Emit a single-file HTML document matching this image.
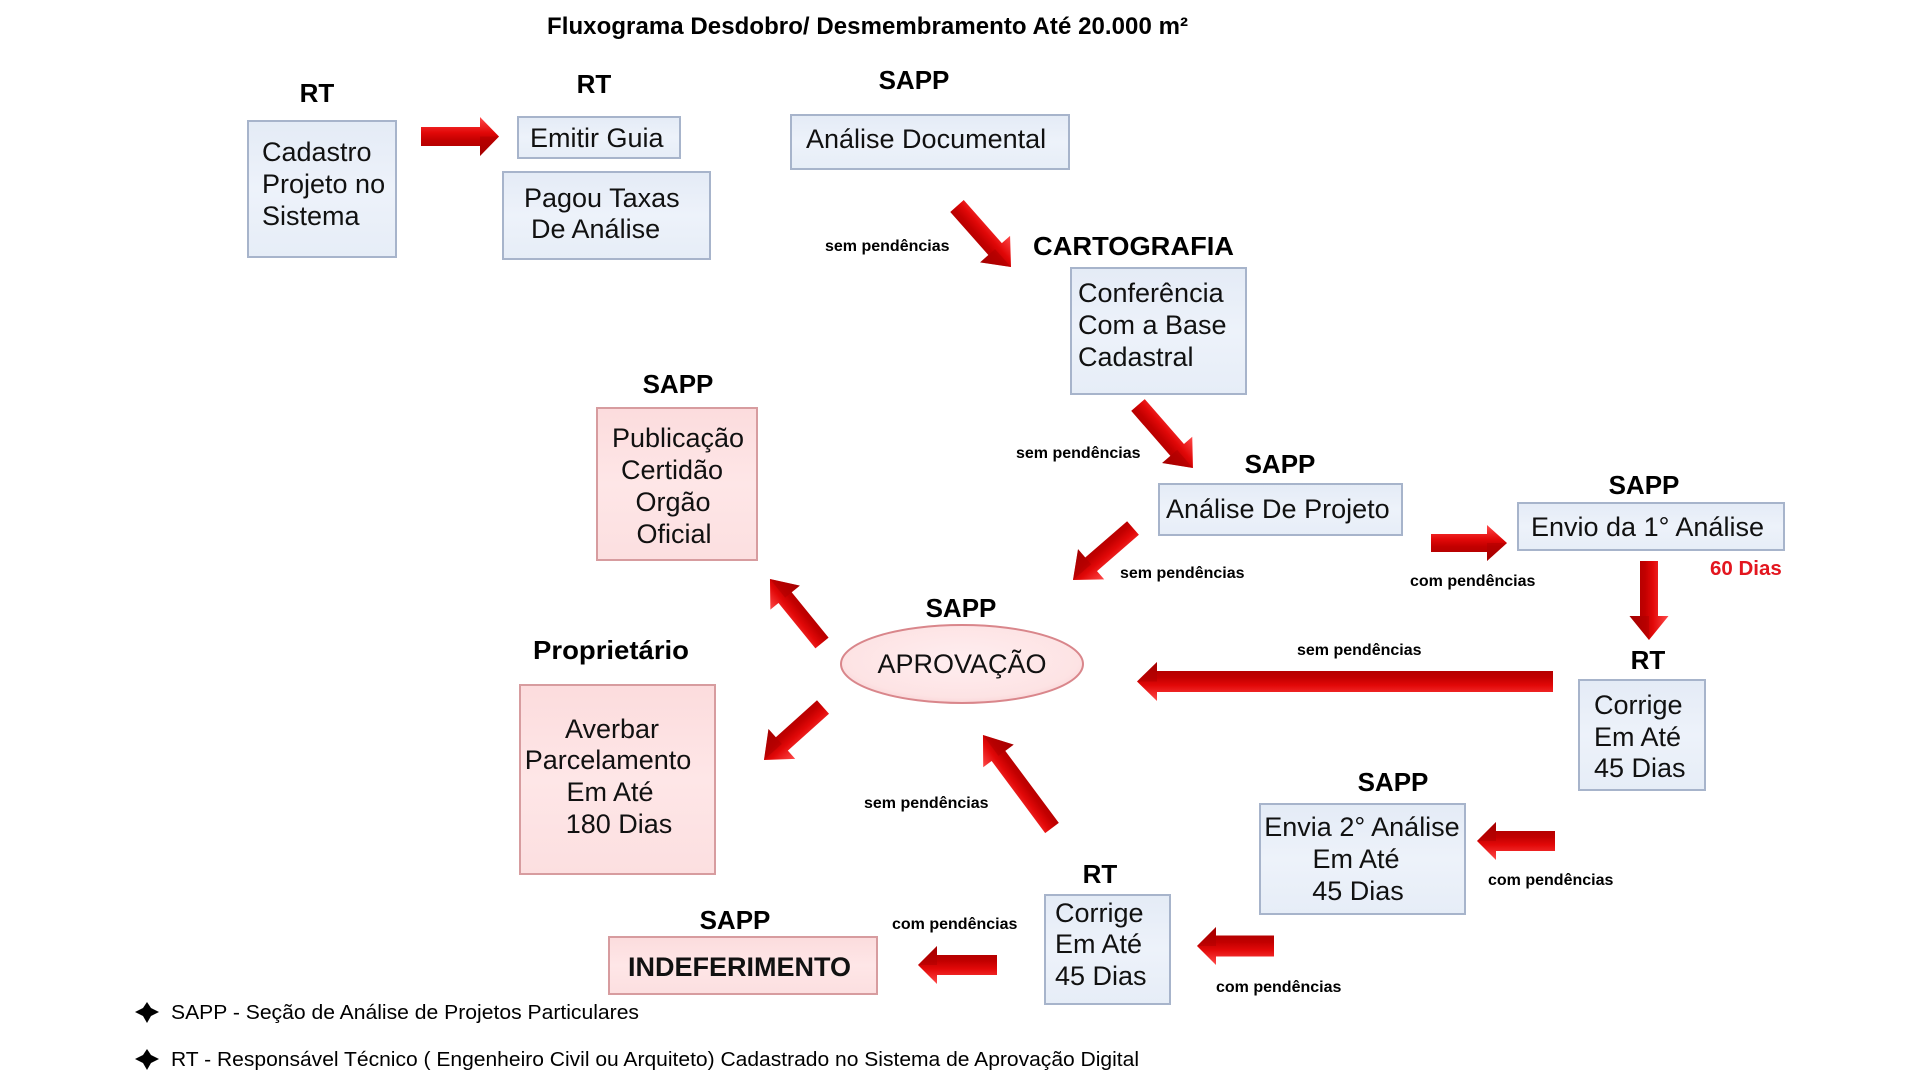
<!DOCTYPE html>
<html>
<head>
<meta charset="utf-8">
<style>
  html,body{margin:0;padding:0;background:#fff;}
  body{width:1920px;height:1080px;overflow:hidden;}
  svg{display:block;}
  .lbl{font-family:"Liberation Sans",Arial,sans-serif;font-weight:bold;font-size:26px;fill:#000;}
  .bx{font-family:"Liberation Sans",Arial,sans-serif;font-size:27px;fill:#111;}
  .sm{font-family:"Liberation Sans",Arial,sans-serif;font-weight:bold;font-size:16px;fill:#000;}
  .lg{font-family:"Liberation Sans",Arial,sans-serif;font-size:20px;fill:#000;}
</style>
</head>
<body>
<svg width="1920" height="1080" viewBox="0 0 1920 1080" xmlns="http://www.w3.org/2000/svg">
  <defs>
    <linearGradient id="ar" x1="0" y1="0" x2="0" y2="1">
      <stop offset="0" stop-color="#ff4a4a"/>
      <stop offset="0.4" stop-color="#e20808"/>
      <stop offset="0.6" stop-color="#c20000"/>
      <stop offset="1" stop-color="#a30000"/>
    </linearGradient>
    <linearGradient id="bb" x1="0" y1="0" x2="0" y2="1">
      <stop offset="0" stop-color="#e4ebf6"/>
      <stop offset="0.5" stop-color="#edf2fa"/>
      <stop offset="1" stop-color="#e6edf7"/>
    </linearGradient>
    <linearGradient id="pb" x1="0" y1="0" x2="0" y2="1">
      <stop offset="0" stop-color="#fcdcdd"/>
      <stop offset="0.5" stop-color="#fee6e7"/>
      <stop offset="1" stop-color="#fcdfe0"/>
    </linearGradient>
    <radialGradient id="eg" cx="0.5" cy="0.45" r="0.6">
      <stop offset="0" stop-color="#ffeef0"/>
      <stop offset="0.8" stop-color="#fde3e4"/>
      <stop offset="1" stop-color="#f8cfd1"/>
    </radialGradient>
  </defs>

  <!-- Title -->
  <text x="547" y="34" font-family="Liberation Sans, Arial, sans-serif" font-weight="bold" font-size="24" textLength="641" lengthAdjust="spacing">Fluxograma Desdobro/ Desmembramento  Até  20.000 m²</text>

  <!-- Role labels -->
  <text class="lbl" x="317" y="102" text-anchor="middle">RT</text>
  <text class="lbl" x="594" y="93" text-anchor="middle">RT</text>
  <text class="lbl" x="914" y="89" text-anchor="middle">SAPP</text>
  <text class="lbl" x="1033" y="255" textLength="201" lengthAdjust="spacingAndGlyphs">CARTOGRAFIA</text>
  <text class="lbl" x="678" y="393" text-anchor="middle">SAPP</text>
  <text class="lbl" x="1280" y="473" text-anchor="middle">SAPP</text>
  <text class="lbl" x="1644" y="494" text-anchor="middle">SAPP</text>
  <text class="lbl" x="961" y="617" text-anchor="middle">SAPP</text>
  <text class="lbl" x="533" y="659" textLength="156" lengthAdjust="spacingAndGlyphs">Proprietário</text>
  <text class="lbl" x="1648" y="669" text-anchor="middle">RT</text>
  <text class="lbl" x="1393" y="791" text-anchor="middle">SAPP</text>
  <text class="lbl" x="1100" y="883" text-anchor="middle">RT</text>
  <text class="lbl" x="735" y="929" text-anchor="middle">SAPP</text>

  <!-- Blue boxes -->
  <g fill="url(#bb)" stroke="#a7b4cb" stroke-width="2">
    <rect x="248" y="121" width="148" height="136"/>
    <rect x="518" y="117" width="162" height="41"/>
    <rect x="503" y="172" width="207" height="87"/>
    <rect x="791" y="115" width="278" height="54"/>
    <rect x="1071" y="268" width="175" height="126"/>
    <rect x="1159" y="484" width="243" height="51"/>
    <rect x="1518" y="503" width="266" height="47"/>
    <rect x="1579" y="680" width="126" height="110"/>
    <rect x="1260" y="804" width="205" height="110"/>
    <rect x="1045" y="895" width="125" height="109"/>
  </g>

  <!-- Pink boxes -->
  <g fill="url(#pb)" stroke="#d79c9f" stroke-width="2">
    <rect x="597" y="408" width="160" height="152"/>
    <rect x="520" y="685" width="195" height="189"/>
    <rect x="609" y="937" width="268" height="57"/>
  </g>

  <!-- Ellipse -->
  <ellipse cx="962" cy="664" rx="121" ry="39" fill="url(#eg)" stroke="#d9868b" stroke-width="2"/>
  <text class="bx" x="962" y="673" text-anchor="middle">APROVAÇÃO</text>

  <!-- Box texts -->
  <text class="bx" x="262" y="161">Cadastro</text>
  <text class="bx" x="262" y="193">Projeto no</text>
  <text class="bx" x="262" y="225">Sistema</text>

  <text class="bx" x="530" y="147">Emitir Guia</text>
  <text class="bx" x="524" y="207">Pagou Taxas</text>
  <text class="bx" x="531" y="238">De Análise</text>

  <text class="bx" x="806" y="148">Análise Documental</text>

  <text class="bx" x="1078" y="302">Conferência</text>
  <text class="bx" x="1078" y="334">Com a Base</text>
  <text class="bx" x="1078" y="366">Cadastral</text>

  <text class="bx" x="678" y="447" text-anchor="middle">Publicação</text>
  <text class="bx" x="672" y="479" text-anchor="middle">Certidão</text>
  <text class="bx" x="673" y="511" text-anchor="middle">Orgão</text>
  <text class="bx" x="674" y="543" text-anchor="middle">Oficial</text>

  <text class="bx" x="1166" y="518">Análise De Projeto</text>
  <text class="bx" x="1531" y="536">Envio da 1° Análise</text>

  <text class="bx" x="1594" y="714">Corrige</text>
  <text class="bx" x="1594" y="746">Em Até</text>
  <text class="bx" x="1594" y="777">45 Dias</text>

  <text class="bx" x="1362" y="836" text-anchor="middle">Envia 2° Análise</text>
  <text class="bx" x="1356" y="868" text-anchor="middle">Em Até</text>
  <text class="bx" x="1358" y="900" text-anchor="middle">45 Dias</text>

  <text class="bx" x="1055" y="922">Corrige</text>
  <text class="bx" x="1055" y="953">Em Até</text>
  <text class="bx" x="1055" y="985">45 Dias</text>

  <text class="bx" x="612" y="738" text-anchor="middle">Averbar</text>
  <text class="bx" x="608" y="769" text-anchor="middle">Parcelamento</text>
  <text class="bx" x="610" y="801" text-anchor="middle">Em Até</text>
  <text class="bx" x="619" y="833" text-anchor="middle">180 Dias</text>

  <text x="628" y="976" font-family="Liberation Sans, Arial, sans-serif" font-weight="bold" font-size="27" fill="#111">INDEFERIMENTO</text>

  <!-- 60 Dias -->
  <text x="1710" y="575" font-family="Liberation Sans, Arial, sans-serif" font-weight="bold" font-size="20.5" fill="#e3161f">60 Dias</text>

  <!-- Small labels -->
  <text class="sm" x="825" y="251">sem pendências</text>
  <text class="sm" x="1016" y="458">sem pendências</text>
  <text class="sm" x="1120" y="578">sem pendências</text>
  <text class="sm" x="1410" y="586">com pendências</text>
  <text class="sm" x="1297" y="655">sem pendências</text>
  <text class="sm" x="864" y="808">sem pendências</text>
  <text class="sm" x="1488" y="885">com pendências</text>
  <text class="sm" x="1216" y="992">com pendências</text>
  <text class="sm" x="892" y="929">com pendências</text>

  <!-- Arrows -->
  <g fill="url(#ar)">
    <!-- A1 -->
    <g transform="translate(421,136.5) rotate(0)">
      <polygon points="0,-9.5 59,-9.5 59,-19.5 78,0 59,19.5 59,9.5 0,9.5"/>
      <polygon points="59,0 78,0 59,19.5" fill="#a80000" opacity="0.45"/>
    </g>
    <!-- A2 -->
    <g transform="translate(957,206) rotate(48.5)">
      <polygon points="0,-9 57.5,-9 57.5,-20 81.5,0 57.5,20 57.5,9 0,9"/>
      <polygon points="57.5,0 81.5,0 57.5,20" fill="#a80000" opacity="0.45"/>
    </g>
    <!-- A3 -->
    <g transform="translate(1138,405) rotate(48.9)">
      <polygon points="0,-9 59.6,-9 59.6,-20 83.6,0 59.6,20 59.6,9 0,9"/>
      <polygon points="59.6,0 83.6,0 59.6,20" fill="#a80000" opacity="0.45"/>
    </g>
    <!-- A4 -->
    <g transform="translate(1133,528) rotate(139.1)">
      <polygon points="0,-9 55.4,-9 55.4,-20 79.4,0 55.4,20 55.4,9 0,9"/>
      <polygon points="55.4,0 79.4,0 55.4,20" fill="#a80000" opacity="0.45"/>
    </g>
    <!-- A5 -->
    <g transform="translate(1431,543) rotate(0)">
      <polygon points="0,-9 56,-9 56,-18 76,0 56,18 56,9 0,9"/>
      <polygon points="56,0 76,0 56,18" fill="#a80000" opacity="0.45"/>
    </g>
    <!-- A6 -->
    <g transform="translate(1649,561) rotate(90)">
      <polygon points="0,-9 55,-9 55,-19.5 79,0 55,19.5 55,9 0,9"/>
      <polygon points="55,0 79,0 55,19.5" fill="#a80000" opacity="0.45"/>
    </g>
    <!-- A7 -->
    <g transform="translate(1553,681.5) rotate(180)">
      <polygon points="0,-10.5 396,-10.5 396,-19.5 416,0 396,19.5 396,10.5 0,10.5"/>
      <polygon points="396,0 416,0 396,19.5" fill="#a80000" opacity="0.45"/>
    </g>
    <!-- A8 -->
    <g transform="translate(1052,828) rotate(-126.6)">
      <polygon points="0,-8.5 89.8,-8.5 89.8,-19 115.8,0 89.8,19 89.8,8.5 0,8.5"/>
      <polygon points="89.8,0 115.8,0 89.8,19" fill="#a80000" opacity="0.45"/>
    </g>
    <!-- A9 -->
    <g transform="translate(822,643) rotate(-129.1)">
      <polygon points="0,-8.5 58.5,-8.5 58.5,-19 82.5,0 58.5,19 58.5,8.5 0,8.5"/>
      <polygon points="58.5,0 82.5,0 58.5,19" fill="#a80000" opacity="0.45"/>
    </g>
    <!-- A10 -->
    <g transform="translate(823,707) rotate(138.1)">
      <polygon points="0,-9 55.3,-9 55.3,-20 79.3,0 55.3,20 55.3,9 0,9"/>
      <polygon points="55.3,0 79.3,0 55.3,20" fill="#a80000" opacity="0.45"/>
    </g>
    <!-- A11 -->
    <g transform="translate(1555,841) rotate(180)">
      <polygon points="0,-10 59,-10 59,-19 78,0 59,19 59,10 0,10"/>
      <polygon points="59,0 78,0 59,19" fill="#a80000" opacity="0.45"/>
    </g>
    <!-- A12 -->
    <g transform="translate(1274,946) rotate(180)">
      <polygon points="0,-10.5 58,-10.5 58,-19 77,0 58,19 58,10.5 0,10.5"/>
      <polygon points="58,0 77,0 58,19" fill="#a80000" opacity="0.45"/>
    </g>
    <!-- A13 -->
    <g transform="translate(997,965) rotate(180)">
      <polygon points="0,-10 60,-10 60,-19 79,0 60,19 60,10 0,10"/>
      <polygon points="60,0 79,0 60,19" fill="#a80000" opacity="0.45"/>
    </g>
  </g>

  <!-- Legend -->
  <path d="M135,1012 L143,1008 L147,1002 L151,1008 L159,1012 L151,1016 L147,1023 L143,1016 Z" fill="#000"/>
  <text class="lg" x="171" y="1019" textLength="468" lengthAdjust="spacingAndGlyphs">SAPP - Seção de Análise de Projetos Particulares</text>
  <path d="M135,1059 L143,1055 L147,1049 L151,1055 L159,1059 L151,1063 L147,1070 L143,1063 Z" fill="#000"/>
  <text class="lg" x="171" y="1066" textLength="968" lengthAdjust="spacingAndGlyphs">RT - Responsável Técnico ( Engenheiro Civil ou Arquiteto) Cadastrado no Sistema de Aprovação Digital</text>
</svg>
</body>
</html>
